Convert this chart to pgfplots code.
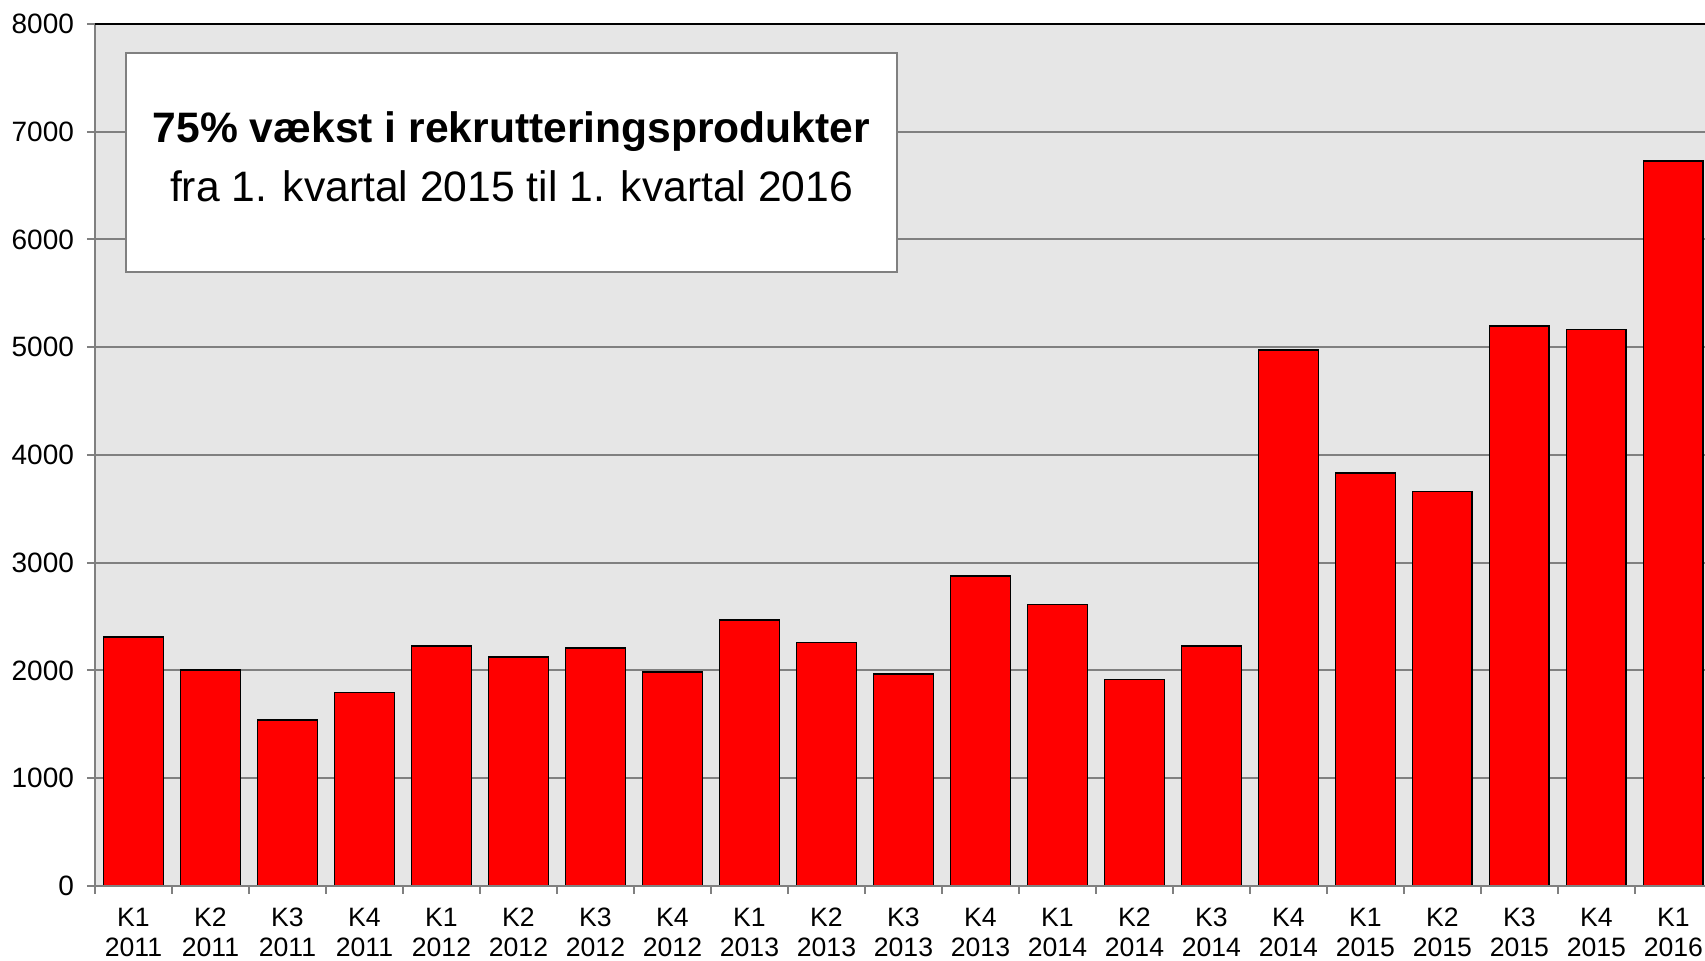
\documentclass[border=0pt]{standalone}
\usepackage{fontspec}
\setmainfont{Liberation Sans}
\usepackage{pgfplots}
\pgfplotsset{compat=1.18}
\definecolor{plotbg}{RGB}{230,230,230}
\definecolor{gridgray}{RGB}{128,128,128}
\begin{document}
\begin{tikzpicture}
\begin{axis}[
  name=ax,
  width=805pt, height=431pt,
  scale only axis,
  xmin=-0.5, xmax=20.41,
  ymin=0, ymax=8000,
  ytick={0,1000,...,8000},
  xtick={-0.5,0.5,...,19.5},
  xticklabels={},
  extra x ticks={0,1,...,20},
  extra x tick labels={{K1\\2011},{K2\\2011},{K3\\2011},{K4\\2011},{K1\\2012},{K2\\2012},{K3\\2012},{K4\\2012},{K1\\2013},{K2\\2013},{K3\\2013},{K4\\2013},{K1\\2014},{K2\\2014},{K3\\2014},{K4\\2014},{K1\\2015},{K2\\2015},{K3\\2015},{K4\\2015},{K1\\2016}},
  extra x tick style={major tick length=0pt, grid=none},
  xtick pos=bottom, ytick pos=left,
  xticklabel style={align=center, font=\fontsize{13.3}{15}\selectfont, yshift=-7.6pt},
  yticklabel style={font=\fontsize{14}{15}\selectfont, xshift=-3pt},
  /pgf/number format/assume math mode=true,
  /pgf/number format/1000 sep={},
  tick align=outside,
  major tick length=4pt,
  tick style={gridgray, line width=1pt},
  ymajorgrids,
  major grid style={gridgray, line width=1pt},
  axis line style={draw=none},
  axis background/.style={fill=plotbg},
  clip=false,
  ybar, bar width=0.775,
]
\addplot[fill=red, draw=black, line width=0.8pt] coordinates {
(0,2310) (1,2007) (2,1543) (3,1796) (4,2229) (5,2128) (6,2209) (7,1987)
(8,2471) (9,2260) (10,1967) (11,2875) (12,2613) (13,1917) (14,2229)
(15,4973) (16,3833) (17,3662) (18,5195) (19,5165) (20,6728)
};
\draw[gridgray, line width=1pt] (rel axis cs:0,1) -- (rel axis cs:0,0) -- (rel axis cs:1,0);
\draw[black, line width=1pt] (rel axis cs:0,1) -- (rel axis cs:1,1);
\node[draw=gridgray, line width=0.8pt, fill=white, minimum width=385.5pt, minimum height=109.5pt, inner sep=0pt] at (axis cs:4.909,6715) {};
\node[anchor=base, inner sep=0pt, font=\fontsize{21.3}{25}\selectfont\bfseries] at (axis cs:4.909,6896) {75\% vækst i rekrutteringsprodukter};
\node[anchor=base, inner sep=0pt, font=\fontsize{21.3}{25}\selectfont] at (axis cs:4.909,6357) {fra 1. kvartal 2015 til 1. kvartal 2016};
\end{axis}
\pgfresetboundingbox
\path[use as bounding box] ([xshift=-47.5pt,yshift=-37.5pt]ax.south west) rectangle ([yshift=12pt]ax.north east);
\end{tikzpicture}
\end{document}
